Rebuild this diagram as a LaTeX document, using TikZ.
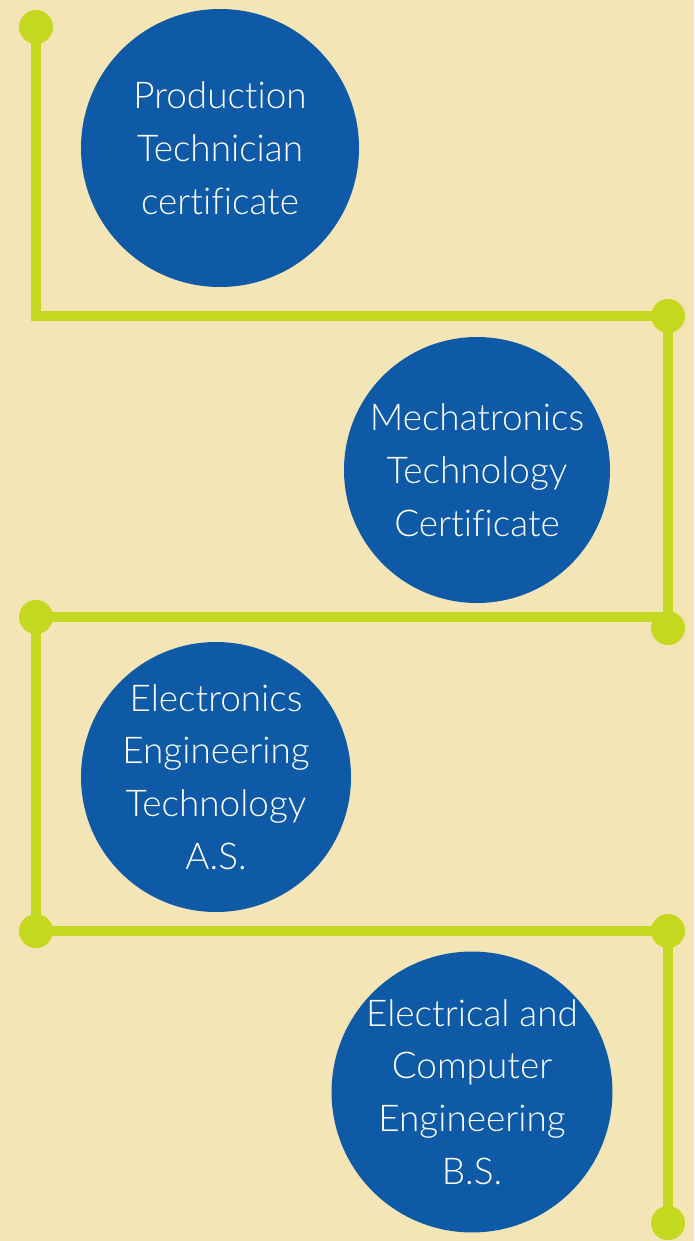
\documentclass[tikz,border=0pt]{standalone}
\usepackage{fontspec}
\setmainfont{Lato}[UprightFont={* Light}, Ligatures=NoCommon]
\usepackage{tikz}

\definecolor{paper}{RGB}{243,229,182}
\definecolor{lime}{RGB}{197,216,32}
\definecolor{uniblue}{RGB}{14,90,167}

\tikzset{
  track/.style={line width=0.2cm, color=lime},
  knob/.style={circle, fill=lime, inner sep=0pt, minimum size=0.68cm},
  stage/.style={circle, fill=uniblue, text=white, inner sep=0pt, align=center,
    font=\fontsize{21}{30}\selectfont}
}

\begin{document}
\begin{tikzpicture}

\fill[paper] (0,0) rectangle (13.88,-24.82);
\useasboundingbox (0,0) rectangle (13.88,-24.82);

% dots along the track
\node[knob] (d1) at (0.72,-0.54)  {};
\node[knob] (d2) at (13.36,-6.32) {};
\node[knob] (d3) at (13.36,-12.56) {};
\node[knob] (d4) at (0.72,-12.34) {};
\node[knob] (d5) at (0.72,-18.62) {};
\node[knob] (d6) at (13.36,-18.62) {};
\node[knob] (d7) at (13.36,-24.46) {};

\draw[track] (d1.center) |- (d2.center);
\draw[track] (d2.center) -- (d3.center);
\draw[track] (d4.center) -- (d4 -| d2);
\draw[track] (d4.center) -- (d5.center);
\draw[track] (d5.center) -- (d6.center);
\draw[track] (d6.center) -- (d7.center);

% the four stages
\node[stage, minimum size=5.56cm] (prod) at (4.4,-2.96)
  {Production\\Technician\\certificate};
\node[stage, minimum size=5.32cm] (mech) at (9.54,-9.4)
  {Mechatronics\\Technology\\Certificate};
\node[stage, minimum size=5.4cm] (elec) at (4.32,-15.54)
  {Electronics\\Engineering\\Technology\\A.S.};
\node[stage, minimum size=5.56cm] (ece) at (9.44,-21.84)
  {Electrical and\\Computer\\Engineering\\B.S.};

\end{tikzpicture}
\end{document}
